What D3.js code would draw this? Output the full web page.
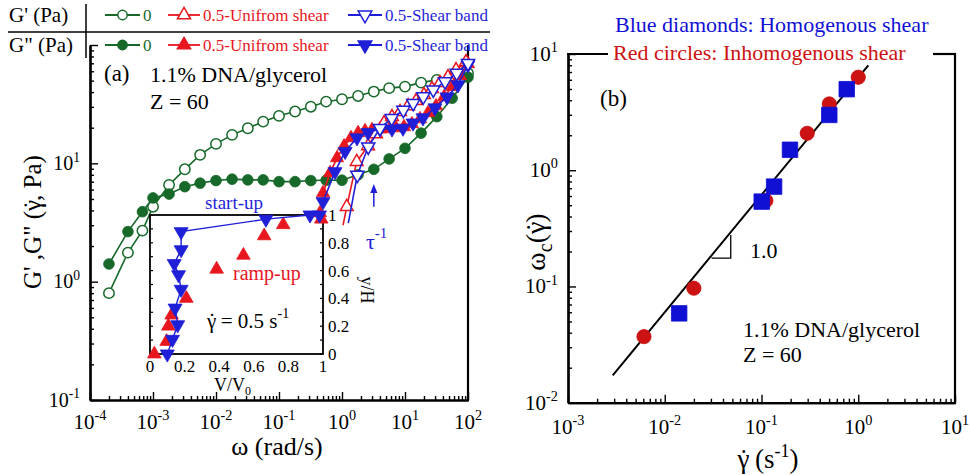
<!DOCTYPE html>
<html>
<head>
<meta charset="utf-8">
<script src="https://cdn.jsdelivr.net/npm/d3@7"></script>
<style>
body { margin: 0; background: #fff; }
svg text { font-family: "Liberation Serif", "Times New Roman", serif; }
</style>
</head>
<body>
<div id="fig"></div>
<script>
// ---- panel (a): SAOS at rest (green) ----
var omega = [0.0002, 0.0004, 0.00068, 0.001, 0.0018, 0.0032, 0.0056, 0.01, 0.018, 0.032, 0.056, 0.1,
             0.18, 0.32, 0.56, 1, 1.8, 3.2, 5.6, 10, 18, 32, 56, 100];
var gp_rest  = [0.80, 1.76, 2.70, 4.30, 6.57, 8.9, 11.8, 14.6, 17.4, 19.8, 22.5, 25.2,
                27.4, 30.1, 33.2, 34.8, 37.1, 40.4, 43.2, 44.5, 48.1, 50.7, 54.8, 57.7];
var gpp_rest = [1.41, 2.65, 3.9, 5.1, 5.5, 6.35, 6.8, 7.15, 7.35, 7.25, 7.25, 7.0,
                7.0, 7.15, 7.2, 7.2, 8.0, 8.9, 10.9, 13.4, 18.0, 24.8, 35.5, 53.5];

// ---- 0.5 s-1 uniform shear (red) ----
var uniGpp_w = [0.448, 0.50, 0.646, 0.834, 1.08, 1.39, 1.80, 2.32, 2.99, 4.01, 5.37, 7.19, 9.64, 12.9, 17.3, 23.2, 31.0, 41.6, 55.7, 74.6, 100];
var uniGpp   = [3.81, 5.62, 8.3, 11.1, 14.0, 16.4, 18.1, 18.8, 19.2, 19.5, 19.5, 19.9, 20.3, 21.5, 23.7, 26.7, 30.5, 36.4, 44.3, 54.8, 69.2];
var uniGp_w  = [1.04, 1.19, 1.71, 2.59, 3.47, 4.64, 6.22, 8.34, 11.2, 15.0, 20.0, 26.8, 35.9, 48.2, 64.6, 92.9];
var uniGp    = [3.01, 4.30, 10.3, 14.0, 17.7, 21.9, 24.7, 27.2, 30.5, 33.7, 37.9, 42.6, 47.8, 53.7, 61.6, 72.0];

// ---- 0.5 s-1 shear band (blue) ----
var bandGpp_w = [0.50, 0.774, 1.12, 1.73, 2.59, 4.01, 6.22, 9.29, 13.4, 19.3, 29.9, 46.4, 69.3, 100];
var bandGpp   = [4.74, 8.5, 12.6, 16.4, 18.2, 19.5, 19.5, 19.8, 21.9, 24.2, 29.4, 36.4, 46.0, 67.9];
var bandGp_w  = [1.26, 1.75, 2.61, 4.01, 6.15, 9.4, 13.5, 19.5, 28.1, 43.2, 66.2, 100];
var bandGp    = [3.13, 7.98, 13.8, 19.8, 24.0, 28.2, 32.2, 36.6, 41.8, 49.1, 57.8, 70.2];

// ---- inset: velocity profiles ----
var startV = [0.10, 0.13, 0.16, 0.145, 0.18, 0.165, 0.14, 0.18, 0.18, 0.67, 0.925, 0.98];
var startY = [0.0, 0.105, 0.21, 0.33, 0.465, 0.57, 0.65, 0.75, 0.88, 0.97, 1.0, 1.0];
var rampV  = [0.025, 0.096, 0.106, 0.125, 0.21, 0.385, 0.54, 0.66, 0.77, 0.99];
var rampY  = [0.0, 0.09, 0.2, 0.28, 0.40, 0.61, 0.71, 0.85, 0.93, 0.97];
var insetTicks = [0, 0.2, 0.4, 0.6, 0.8, 1];

// ---- panel (b) ----
var homoRate = [0.0141, 0.1005, 0.135, 0.197, 0.502, 0.760];
var homoWc   = [0.0587, 0.537, 0.723, 1.50, 2.99, 4.98];
var inhoRate = [0.0061, 0.020, 0.111, 0.297, 0.502, 1.0];
var inhoWc   = [0.037, 0.0966, 0.547, 2.08, 3.72, 6.31];
var fitRate  = [0.0029, 1.27];
var fitWc    = [0.0172, 8.0];
var slopeRate = [0.0305, 0.0481];
var slopeWc   = [0.175, 0.277];

var W = 970, H = 475;
var green = '#17692a', red = '#e8161e', blue = '#1f1fd8';
var redB = '#cc1212', blueB = '#1010d4';

var svg = d3.select('#fig').append('svg').attr('width', W).attr('height', H);

var xA = d3.scaleLog().domain([1e-4, 1e2]).range([90, 468]);
var yA = d3.scaleLog().domain([0.1, 100]).range([400, 45]);
var xI = d3.scaleLinear().domain([0, 1]).range([150, 323]);
var yI = d3.scaleLinear().domain([0, 1]).range([354, 215]);
var xB = d3.scaleLog().domain([1e-3, 10]).range([568, 955]);
var yB = d3.scaleLog().domain([0.01, 10]).range([402.7, 54]);

function isMajor(d) {
    var l = Math.log10(d);
    return Math.abs(l - Math.round(l)) < 1e-9;
}

// gamma with a dot on top, appended as tspans to a text
function gammaDot(t) {
    t.append('tspan').text('\u03b3');
    t.append('tspan').attr('dx', '-0.37em').text('\u02d9');
    t.append('tspan').attr('dx', '0.04em').text('');
    return t;
}

// log axis with inward ticks, labels as 10^n
function logAxis(scale, orient, pos, fs, labelOff, skip) {
    var all = scale.ticks();
    var major = all.filter(isMajor);
    var minor = all.filter(function(d) { return !isMajor(d); });
    var mk = orient === 'left' ? d3.axisLeft : d3.axisBottom;
    var tr = orient === 'left' ? `translate(${pos},0)` : `translate(0,${pos})`;
    var g = svg.append('g').attr('transform', tr);
    g.append('g').call(mk(scale).tickValues(minor).tickSize(-4).tickSizeOuter(0).tickFormat(''));
    g.append('g').call(mk(scale).tickValues(major).tickSize(-8).tickSizeOuter(0).tickFormat(''));
    g.selectAll('path.domain').attr('stroke', '#000').attr('stroke-width', 2.2);
    g.selectAll('.tick line').attr('stroke', '#000').attr('stroke-width', 1.4);

    major.forEach(function(d) {
        if (skip && skip.indexOf(d) >= 0) return;
        var t = svg.append('text').attr('font-size', fs).attr('fill', '#000');
        if (orient === 'left') {
            t.attr('x', pos - labelOff).attr('y', scale(d) + fs * 0.33).attr('text-anchor', 'end');
        } else {
            t.attr('x', scale(d)).attr('y', pos + labelOff).attr('text-anchor', 'middle');
        }
        t.text('10').append('tspan').attr('dy', -fs * 0.42).attr('font-size', fs * 0.68)
            .text(Math.round(Math.log10(d)));
    });
}

// draw a series: line through all points, markers (optionally skipping the first)
function series(xs, ys, xs_, ys_, color, type, size, filled, rot, opts) {
    opts = opts || {};
    var pts = xs.map(function(x, i) { return [xs_(x), ys_(ys[i])]; });
    if (!opts.noLine) {
        svg.append('path').attr('d', d3.line()(pts)).attr('fill', 'none')
            .attr('stroke', color).attr('stroke-width', opts.lw || 1.6);
    }
    var mp = opts.skipFirst ? pts.slice(1) : pts;
    svg.append('g').selectAll('path').data(mp).enter().append('path')
        .attr('d', d3.symbol().type(type).size(size)())
        .attr('transform', function(d) { return `translate(${d[0]},${d[1]}) rotate(${rot})`; })
        .attr('fill', filled ? color : '#fff')
        .attr('stroke', color).attr('stroke-width', filled ? 0.8 : 1.5);
}

// ---------------- panel (a) axes ----------------
logAxis(yA, 'left', 90, 20, 10, [100]);
logAxis(xA, 'bottom', 400, 21, 29);
svg.append('line').attr('x1', 468).attr('x2', 468).attr('y1', 45).attr('y2', 401)
    .attr('stroke', '#000').attr('stroke-width', 2.2);

var yla = svg.append('text').attr('transform', 'translate(41,222) rotate(-90)').attr('text-anchor', 'middle')
    .attr('font-size', 25);
yla.append('tspan').text('G\' ,G" (');
gammaDot(yla);
yla.append('tspan').text(', Pa)');
svg.append('text').attr('x', 277).attr('y', 455).attr('text-anchor', 'middle')
    .attr('font-size', 26).text('\u03c9 (rad/s)');

// data (a)
series(omega, gp_rest, xA, yA, green, d3.symbolCircle, 85, false, 0);
series(omega, gpp_rest, xA, yA, green, d3.symbolCircle, 90, true, 0);
series(uniGpp_w, uniGpp, xA, yA, red, d3.symbolTriangle, 75, true, 0);
series(uniGp_w, uniGp, xA, yA, red, d3.symbolTriangle, 70, false, 0, {skipFirst: true});
series(bandGpp_w, bandGpp, xA, yA, blue, d3.symbolTriangle, 85, true, 180);
series(bandGp_w, bandGp, xA, yA, blue, d3.symbolTriangle, 75, false, 180, {skipFirst: true});

// annotations (a)
svg.append('text').attr('x', 104).attr('y', 81).attr('font-size', 23).text('(a)');
svg.append('text').attr('x', 150).attr('y', 82).attr('font-size', 22).text('1.1% DNA/glycerol');
svg.append('text').attr('x', 150).attr('y', 109).attr('font-size', 22).text('Z = 60');

// tau^-1 arrow
var ax = xA(3.2), ay0 = yA(4.3), ay1 = yA(6.7);
svg.append('line').attr('x1', ax).attr('x2', ax).attr('y1', ay0).attr('y2', ay1 + 6)
    .attr('stroke', blue).attr('stroke-width', 1.5);
svg.append('path').attr('d', `M${ax},${ay1} L${ax - 3.5},${ay1 + 9} L${ax + 3.5},${ay1 + 9} Z`).attr('fill', blue);
var tau = svg.append('text').attr('x', 366).attr('y', 249).attr('font-size', 22).attr('fill', blue).text('\u03c4');
tau.append('tspan').attr('dy', -11).attr('font-size', 15).text('-1');

// ---------------- inset ----------------
var ins = svg.append('g');
ins.append('rect').attr('x', xI(0)).attr('y', yI(1)).attr('width', xI(1) - xI(0)).attr('height', yI(0) - yI(1))
    .attr('fill', 'none').attr('stroke', '#000').attr('stroke-width', 1.8);
var yTicks = d3.range(0, 11).map(function(i) { return i / 10; });
ins.selectAll('line.yl').data(yTicks).enter().append('line')
    .attr('x1', xI(0)).attr('x2', xI(0) + 3).attr('y1', yI).attr('y2', yI)
    .attr('stroke', '#000').attr('stroke-width', 1.2);
ins.selectAll('line.yr').data(yTicks).enter().append('line')
    .attr('x1', xI(1)).attr('x2', xI(1) - 3).attr('y1', yI).attr('y2', yI)
    .attr('stroke', '#000').attr('stroke-width', 1.2);
ins.selectAll('text.xt').data(insetTicks).enter().append('text')
    .attr('x', function(d) { return xI(d); }).attr('y', 372).attr('text-anchor', 'middle')
    .attr('font-size', 17).text(function(d) { return d; });
ins.selectAll('text.yt').data(insetTicks).enter().append('text')
    .attr('x', xI(1) + 5).attr('y', function(d) { return yI(d) + 6; })
    .attr('font-size', 17).text(function(d) { return d; });
var vl = ins.append('text').attr('x', 214).attr('y', 391).attr('font-size', 18).text('V/V');
vl.append('tspan').attr('dy', 4).attr('font-size', 12).text('0');
ins.append('text').attr('transform', 'translate(361,290) rotate(90)').attr('text-anchor', 'middle')
    .attr('font-size', 18).text('y/H');

series(rampV, rampY, xI, yI, red, d3.symbolTriangle, 80, true, 0, {noLine: true});
series(startV, startY, xI, yI, blue, d3.symbolTriangle, 85, true, 180, {lw: 1.4});

svg.append('text').attr('x', 205).attr('y', 209).attr('font-size', 19).attr('fill', blue).text('start-up');
svg.append('text').attr('x', 233).attr('y', 280).attr('font-size', 20).attr('fill', red).text('ramp-up');
var gr = svg.append('text').attr('x', 207).attr('y', 328).attr('font-size', 21);
gammaDot(gr);
gr.append('tspan').text(' = 0.5 s');
gr.append('tspan').attr('dy', -10).attr('font-size', 14).text('-1');

// ---------------- legend (a) ----------------
var leg = svg.append('g');
leg.append('line').attr('x1', 8).attr('x2', 490).attr('y1', 32).attr('y2', 32).attr('stroke', '#000').attr('stroke-width', 1.5);
leg.append('line').attr('x1', 86).attr('x2', 86).attr('y1', 4).attr('y2', 58).attr('stroke', '#000').attr('stroke-width', 1.5);
leg.append('text').attr('x', 9).attr('y', 22).attr('font-size', 21).text("G' (Pa)");
leg.append('text').attr('x', 9).attr('y', 52).attr('font-size', 21).text('G" (Pa)');

var legItems = [
    {x1: 105, x2: 140, color: green, type: d3.symbolCircle, size: 70, rot: 0, label: '0'},
    {x1: 168, x2: 200, color: red, type: d3.symbolTriangle, size: 75, rot: 0, label: '0.5-Unifrom shear'},
    {x1: 348, x2: 382, color: blue, type: d3.symbolTriangle, size: 80, rot: 180, label: '0.5-Shear band'}
];
[15, 45].forEach(function(y, row) {
    legItems.forEach(function(it) {
        leg.append('line').attr('x1', it.x1).attr('x2', it.x2).attr('y1', y).attr('y2', y)
            .attr('stroke', it.color).attr('stroke-width', 1.8);
        leg.append('path').attr('d', d3.symbol().type(it.type).size(it.size)())
            .attr('transform', `translate(${(it.x1 + it.x2) / 2},${y}) rotate(${it.rot})`)
            .attr('fill', row === 1 ? it.color : '#fff').attr('stroke', it.color).attr('stroke-width', 1.5);
        leg.append('text').attr('x', it.x2 + 3).attr('y', y + 6).attr('font-size', 17)
            .attr('fill', it.color).text(it.label);
    });
});

// ---------------- panel (b) ----------------
logAxis(yB, 'left', 568, 21, 10);
logAxis(xB, 'bottom', 402.7, 21, 31);
svg.append('line').attr('x1', 955).attr('x2', 955).attr('y1', 53).attr('y2', 403.7)
    .attr('stroke', '#000').attr('stroke-width', 2.2);
svg.append('line').attr('x1', 567).attr('x2', 608).attr('y1', 54).attr('y2', 54)
    .attr('stroke', '#000').attr('stroke-width', 2.2);
svg.append('line').attr('x1', 933).attr('x2', 956).attr('y1', 54).attr('y2', 54)
    .attr('stroke', '#000').attr('stroke-width', 2.2);

var fitPts = fitRate.map(function(x, i) { return [xB(x), yB(fitWc[i])]; });
svg.append('path').attr('d', d3.line()(fitPts)).attr('fill', 'none').attr('stroke', '#000').attr('stroke-width', 2);
svg.append('path')
    .attr('d', d3.line()([[xB(slopeRate[0]), yB(slopeWc[0])], [xB(slopeRate[1]), yB(slopeWc[0])], [xB(slopeRate[1]), yB(slopeWc[1])]]))
    .attr('fill', 'none').attr('stroke', '#000').attr('stroke-width', 1.3);

series(inhoRate, inhoWc, xB, yB, redB, d3.symbolCircle, 160, true, 0, {noLine: true});
series(homoRate, homoWc, xB, yB, blueB, d3.symbolSquare, 240, true, 0, {noLine: true});

svg.append('text').attr('x', 600).attr('y', 106).attr('font-size', 23).text('(b)');
svg.append('text').attr('x', 750).attr('y', 258).attr('font-size', 22).text('1.0');
svg.append('text').attr('x', 743).attr('y', 337).attr('font-size', 22).text('1.1% DNA/glycerol');
svg.append('text').attr('x', 743).attr('y', 362).attr('font-size', 22).text('Z = 60');
svg.append('text').attr('x', 615).attr('y', 32).attr('font-size', 22).attr('fill', blueB).text('Blue diamonds: Homogenous shear');
svg.append('text').attr('x', 613).attr('y', 60).attr('font-size', 22).attr('fill', redB).text('Red circles: Inhomogenous shear');

var yl = svg.append('text').attr('transform', 'translate(545,242) rotate(-90)').attr('text-anchor', 'middle')
    .attr('font-size', 28);
yl.append('tspan').text('\u03c9');
yl.append('tspan').attr('dy', 7).attr('font-size', 20).text('c');
yl.append('tspan').attr('dy', -7).text('(');
gammaDot(yl);
yl.append('tspan').text(')');
var xl = svg.append('text').attr('x', 768).attr('y', 468).attr('text-anchor', 'middle')
    .attr('font-size', 27);
gammaDot(xl);
xl.append('tspan').text(' (s');
xl.append('tspan').attr('dy', -11).attr('font-size', 18).text('-1');
xl.append('tspan').attr('dy', 11).text(')');
</script>
</body>
</html>
